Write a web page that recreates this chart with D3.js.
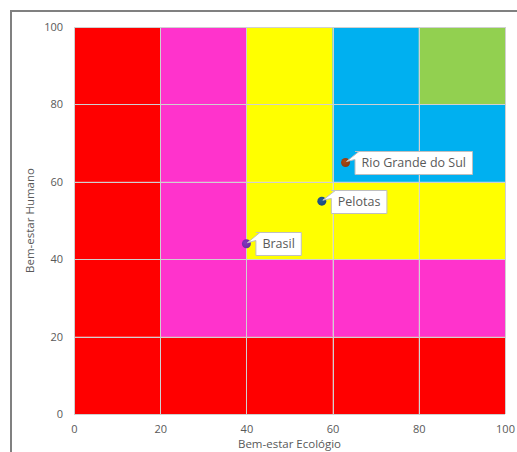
<!DOCTYPE html>
<html>
<head>
<meta charset="utf-8">
<script src="https://cdn.jsdelivr.net/npm/d3@7"></script>
<style>
  html, body { margin: 0; padding: 0; background: #fff; }
  svg { display: block; }
  text { font-family: "Open Sans", "Noto Sans", sans-serif; }
</style>
</head>
<body>
<svg id="chart" width="517" height="452"></svg>
<script>
// Sustainability barometer: human vs. ecological well-being
const bandBreaks = [0, 20, 40, 60, 80, 100];
const bandColors = ["#ff0000", "#ff33cc", "#ffff00", "#00b0f0", "#92d050"];
const xTicks = [0, 20, 40, 60, 80, 100];
const yTicks = [0, 20, 40, 60, 80, 100];

const places = ["Brasil", "Pelotas", "Rio Grande do Sul"];
const ecological = [40, 57.5, 63];
const human = [44, 55, 65];
const markerColors = ["#6a2c9c", "#1c4a78", "#8a3a10"];

const xTitle = "Bem-estar Ecológio";
const yTitle = "Bem-estar Humano";

const svg = d3.select("#chart");
const W = 517, H = 452;
const plot = { left: 74, top: 27, right: 505, bottom: 414 };

const x = d3.scaleLinear().domain([0, 100]).range([plot.left, plot.right]);
const y = d3.scaleLinear().domain([0, 100]).range([plot.bottom, plot.top]);

// outer chart frame (only left and top edges fall inside the window)
svg.append("path")
  .attr("d", `M11,${H} L11,11 L${W},11`)
  .attr("fill", "none").attr("stroke", "#808080").attr("stroke-width", 2);

// zone cells: colour band is the weaker of the two dimensions
const cells = [];
for (let i = 0; i < bandBreaks.length - 1; i++) {
  for (let j = 0; j < bandBreaks.length - 1; j++) {
    cells.push({ x0: bandBreaks[i], x1: bandBreaks[i + 1], y0: bandBreaks[j], y1: bandBreaks[j + 1], band: Math.min(i, j) });
  }
}
svg.append("g").selectAll("rect").data(cells).join("rect")
  .attr("x", d => x(d.x0)).attr("y", d => y(d.y1))
  .attr("width", d => x(d.x1) - x(d.x0)).attr("height", d => y(d.y0) - y(d.y1))
  .attr("fill", d => bandColors[d.band]);

// gridlines
const grid = svg.append("g").attr("stroke", "#d0d0d0").attr("stroke-width", 1);
grid.selectAll("line.v").data(xTicks).join("line").attr("class", "v")
  .attr("x1", d => Math.round(x(d)) + 0.5).attr("x2", d => Math.round(x(d)) + 0.5)
  .attr("y1", plot.top).attr("y2", plot.bottom);
grid.selectAll("line.h").data(yTicks).join("line").attr("class", "h")
  .attr("y1", d => Math.round(y(d)) + 0.5).attr("y2", d => Math.round(y(d)) + 0.5)
  .attr("x1", plot.left).attr("x2", plot.right);

// axes (labels only)
const xAxis = svg.append("g").attr("transform", `translate(0,${plot.bottom + 8})`)
  .call(d3.axisBottom(x).tickValues(xTicks).tickSize(0).tickPadding(3));
const yAxis = svg.append("g").attr("transform", `translate(${plot.left - 8},0)`)
  .call(d3.axisLeft(y).tickValues(yTicks).tickSize(0).tickPadding(3));
[xAxis, yAxis].forEach(a => {
  a.select(".domain").remove();
  a.selectAll("text").attr("fill", "#595959").style("font-size", "11px")
    .style("font-family", "'Open Sans', 'Noto Sans', sans-serif");
});

// axis titles
svg.append("text").attr("x", (plot.left + plot.right) / 2).attr("y", 448)
  .attr("text-anchor", "middle").attr("fill", "#595959").style("font-size", "11.5px").text(xTitle);
svg.append("text").attr("transform", `translate(34,${(plot.top + plot.bottom) / 2}) rotate(-90)`)
  .attr("text-anchor", "middle").attr("fill", "#595959").style("font-size", "11.5px").text(yTitle);

// points
const pts = places.map((name, i) => ({ name, ex: ecological[i], hu: human[i], color: markerColors[i] }));
const defs = svg.append("defs");
pts.forEach((p, i) => {
  const g = defs.append("radialGradient").attr("id", "ball" + i).attr("cx", "40%").attr("cy", "40%").attr("r", "65%");
  g.append("stop").attr("offset", "0%").attr("stop-color", d3.color(p.color).brighter(0.6));
  g.append("stop").attr("offset", "100%").attr("stop-color", p.color);
});
svg.append("g").selectAll("circle").data(pts).join("circle")
  .attr("cx", d => x(d.ex)).attr("cy", d => y(d.hu)).attr("r", 4.5)
  .attr("fill", (d, i) => `url(#ball${i})`);

// callout labels
const callouts = svg.append("g");
pts.forEach(p => {
  const px = x(p.ex), py = y(p.hu);
  const g = callouts.append("g");
  const t = g.append("text").attr("x", px + 16).attr("y", py + 4.5)
    .attr("fill", "#595959").style("font-size", "12.5px").text(p.name);
  const tw = t.node().getComputedTextLength();
  const bx = px + 9.5, by = Math.round(py - 11.5) + 0.5, bw = tw + 13, bh = 23;
  g.insert("path", "text").attr("d", `M${bx},${by} H${bx + bw} V${by + bh} H${bx} V${by + 8} L${px + 1},${py - 1} L${bx + 4},${by} Z`)
    .attr("fill", "#fff").attr("stroke", "#bfbfbf").attr("stroke-width", 1);
});
</script>
</body>
</html>
